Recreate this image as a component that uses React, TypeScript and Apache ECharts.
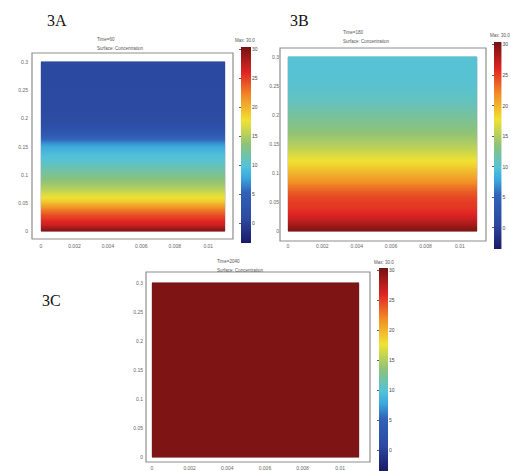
import React, { useEffect, useRef } from "react";
import * as echarts from "echarts";

// ---- data ----
const Y_LEVELS = [0, 0.01, 0.02, 0.03, 0.04, 0.05, 0.06, 0.07, 0.08, 0.09, 0.1, 0.11, 0.12, 0.13, 0.14, 0.15, 0.16, 0.17, 0.18, 0.19, 0.2, 0.21, 0.22, 0.23, 0.24, 0.25, 0.26, 0.27, 0.28, 0.29, 0.3];
const CONC_A = [30, 27, 25.5, 24, 22, 19.5, 17.5, 16, 14.5, 13.5, 12.5, 11.5, 10.5, 9.8, 9, 8, 6, 4, 2.5, 1.6, 1.2, 1.0, 1.0, 0.9, 0.9, 0.9, 0.8, 0.8, 0.8, 0.8, 0.8];
const CONC_B = [30, 28.5, 27, 26, 25.3, 25, 24.5, 23.5, 22.3, 21, 20, 18.8, 17.8, 16.8, 15.8, 15, 14.2, 13.6, 13, 12.5, 12, 11.5, 11, 10.7, 10.4, 10.2, 10.1, 10, 10, 10, 10];
const CONC_C = [30, 30, 30, 30, 30, 30, 30, 30, 30, 30, 30, 30, 30, 30, 30, 30, 30, 30, 30, 30, 30, 30, 30, 30, 30, 30, 30, 30, 30, 30, 30];
const X_MIN = 0;
const X_MAX = 0.011;
const X_INTERVAL = 0.002;
const Y_MIN = 0;
const Y_MAX = 0.3;
const Y_INTERVAL = 0.05;
const CBAR_MIN = -3.5;
const CBAR_MAX = 30.4;
const CBAR_TICKS = [0, 5, 10, 15, 20, 25, 30];
const PANEL_LABELS = ["3A", "3B", "3C"];
const TIME_LABELS = ["Time=60", "Time=180", "Time=2040"];
const SUBTITLE = "Surface: Concentration";
const MAX_LABEL = "Max: 30.0";

// ---- colormap (style) ----
const COLORMAP: [number, string][] = [
  [0, "#1a1a66"],
  [0.12, "#2c48a0"],
  [0.26, "#3262ba"],
  [0.33, "#3aa6dc"],
  [0.39, "#52c2da"],
  [0.5, "#8cc27a"],
  [0.625, "#f0e232"],
  [0.75, "#f28c26"],
  [0.87, "#e02424"],
  [1, "#741212"],
];

function hexToRgb(h: string) {
  const n = parseInt(h.slice(1), 16);
  return [(n >> 16) & 255, (n >> 8) & 255, n & 255];
}
function cmap(v: number) {
  let t = (v - CBAR_MIN) / (CBAR_MAX - CBAR_MIN);
  t = Math.max(0, Math.min(1, t));
  for (let i = 0; i < COLORMAP.length - 1; i++) {
    const [t0, c0] = COLORMAP[i];
    const [t1, c1] = COLORMAP[i + 1];
    if (t <= t1) {
      const f = (t - t0) / (t1 - t0);
      const a = hexToRgb(c0);
      const b = hexToRgb(c1);
      const r = a.map((x, k) => Math.round(x + (b[k] - x) * f));
      return `rgb(${r[0]},${r[1]},${r[2]})`;
    }
  }
  return COLORMAP[COLORMAP.length - 1][1];
}

function bands(conc: number[]) {
  const out: number[][] = [];
  for (let i = 0; i < Y_LEVELS.length - 1; i++) {
    out.push([Y_LEVELS[i], Y_LEVELS[i + 1], conc[i], conc[i + 1]]);
  }
  return out;
}

const PLOT_GRIDS = [
  { left: 41, top: 62, width: 184, height: 169 },
  { left: 288, top: 57, width: 189, height: 174 },
  { left: 152, top: 283, width: 207, height: 174 },
];
const CBAR_GRIDS = [
  { left: 241, top: 47, width: 10, height: 196 },
  { left: 494, top: 42, width: 9, height: 207 },
  { left: 379, top: 268, width: 9, height: 203 },
];
const FRAMES = [
  { x: 32, y: 53, width: 201, height: 186 },
  { x: 280, y: 48, width: 206, height: 193 },
  { x: 146, y: 272, width: 224, height: 190 },
];
const PANEL_LABEL_POS = [[47, 12], [290, 12], [42, 292]];
const TITLE_POS = [[97, 35], [343, 28], [217, 257]];
const MAX_POS = [[235, 38], [490, 33], [374, 260]];
const YLABEL_MARGIN = [13, 9, 9];
const XLABEL_MARGIN = [12, 12, 8];

export default function App() {
  const ref = useRef<HTMLDivElement>(null);
  useEffect(() => {
    if (!ref.current) return;
    const chart = echarts.init(ref.current, null, { renderer: "svg" });
    const concs = [CONC_A, CONC_B, CONC_C];
    const tickFont = { fontSize: 5, color: "#666", fontFamily: "Liberation Sans" };

    const grids: any[] = [];
    const xAxes: any[] = [];
    const yAxes: any[] = [];
    const series: any[] = [];
    const graphics: any[] = [];

    PLOT_GRIDS.forEach((g, i) => {
      grids.push({ ...g, show: true, borderColor: "#b4b4c4", borderWidth: 1, backgroundColor: "transparent" });
      xAxes.push({
        gridIndex: i, type: "value", min: X_MIN, max: X_MAX, interval: X_INTERVAL,
        axisLine: { show: false }, axisTick: { show: false }, splitLine: { show: false },
        axisLabel: { ...tickFont, margin: XLABEL_MARGIN[i], showMaxLabel: false,
          formatter: (v: number) => String(parseFloat(v.toFixed(4))) },
      });
      yAxes.push({
        gridIndex: i, type: "value", min: Y_MIN, max: Y_MAX, interval: Y_INTERVAL,
        axisLine: { show: false }, axisTick: { show: false }, splitLine: { show: false },
        axisLabel: { ...tickFont, margin: YLABEL_MARGIN[i],
          formatter: (v: number) => String(parseFloat(v.toFixed(4))) },
      });
      series.push({
        type: "custom", xAxisIndex: i, yAxisIndex: i, silent: true,
        data: bands(concs[i]),
        renderItem: (params: any, api: any) => {
          const y0 = api.value(0), y1 = api.value(1), c0 = api.value(2), c1 = api.value(3);
          const pTop = api.coord([X_MIN, y1]);
          const pBot = api.coord([X_MAX, y0]);
          const stops = [];
          for (let s = 0; s <= 4; s++) {
            const f = s / 4;
            stops.push({ offset: f, color: cmap(c1 + (c0 - c1) * f) });
          }
          return {
            type: "rect",
            shape: { x: pTop[0], y: pTop[1] - 0.4, width: pBot[0] - pTop[0], height: pBot[1] - pTop[1] + 0.8 },
            style: { fill: new echarts.graphic.LinearGradient(0, 0, 0, 1, stops) },
          };
        },
      });
    });

    CBAR_GRIDS.forEach((g, j) => {
      const gi = 3 + j;
      grids.push({ ...g });
      xAxes.push({ gridIndex: gi, type: "value", min: 0, max: 1, show: false });
      yAxes.push({
        gridIndex: gi, type: "value", min: CBAR_MIN, max: CBAR_MAX, position: "right",
        axisLine: { show: false }, splitLine: { show: false },
        axisTick: { show: true, inside: true, length: 2, customValues: CBAR_TICKS, lineStyle: { color: "#333", width: 0.8 } },
        axisLabel: { ...tickFont, color: "#444", margin: 1, customValues: CBAR_TICKS },
      });
      series.push({
        type: "custom", xAxisIndex: gi, yAxisIndex: gi, silent: true, z: 1,
        data: [[CBAR_MIN, CBAR_MAX]],
        renderItem: (params: any, api: any) => {
          const lo = api.value(0), hi = api.value(1);
          const pTop = api.coord([0, hi]);
          const pBot = api.coord([1, lo]);
          const stops = COLORMAP.map(([t, c]) => ({ offset: 1 - t, color: c })).reverse();
          return {
            type: "rect",
            shape: { x: pTop[0], y: pTop[1], width: pBot[0] - pTop[0], height: pBot[1] - pTop[1] },
            style: { fill: new echarts.graphic.LinearGradient(0, 0, 0, 1, stops) },
          };
        },
      });
    });

    FRAMES.forEach((f) => {
      graphics.push({ type: "rect", shape: f, z: -1, style: { fill: "none", stroke: "#8e8e8e", lineWidth: 1.2 } });
    });
    PANEL_LABELS.forEach((t, i) => {
      graphics.push({ type: "text", x: PANEL_LABEL_POS[i][0], y: PANEL_LABEL_POS[i][1],
        style: { text: t, fontSize: 16, fontFamily: "Liberation Serif", fill: "#111" } });
    });
    TIME_LABELS.forEach((t, i) => {
      graphics.push({ type: "text", x: TITLE_POS[i][0], y: TITLE_POS[i][1],
        style: { text: t + "\n" + SUBTITLE, fontSize: 4.5, lineHeight: 9, fontFamily: "Liberation Sans", fill: "#555" } });
      graphics.push({ type: "text", x: MAX_POS[i][0], y: MAX_POS[i][1],
        style: { text: MAX_LABEL, fontSize: 4.5, fontFamily: "Liberation Sans", fill: "#555" } });
    });

    chart.setOption({
      animation: false,
      backgroundColor: "#ffffff",
      grid: grids,
      xAxis: xAxes,
      yAxis: yAxes,
      series,
      graphic: graphics,
    });
    return () => chart.dispose();
  }, []);
  return <div ref={ref} style={{ position: "absolute", left: 0, top: 0, width: 511, height: 471 }} />;
}
